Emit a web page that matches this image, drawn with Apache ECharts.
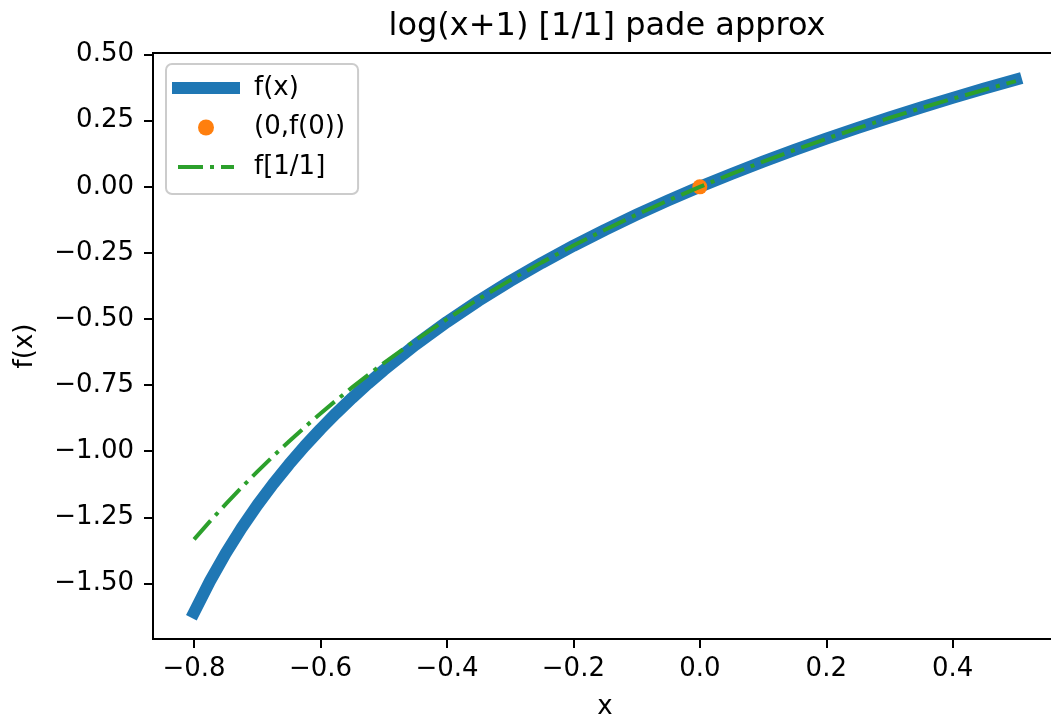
<!DOCTYPE html>
<html>
<head>
<meta charset="utf-8">
<script src="https://cdn.jsdelivr.net/npm/echarts@6/dist/echarts.min.js"></script>
<style>
html,body{margin:0;padding:0;background:#fff;}
#chart{width:1051px;height:717px;}
</style>
</head>
<body>
<div id="chart"></div>
<script>
// Data
const xValues = [-0.8, -0.775, -0.75, -0.725, -0.7, -0.675, -0.65, -0.625, -0.6, -0.575, -0.55, -0.525, -0.5, -0.45, -0.4, -0.35, -0.3, -0.25, -0.2, -0.15, -0.1, -0.05, 0.0, 0.05, 0.1, 0.15, 0.2, 0.25, 0.3, 0.35, 0.4, 0.45, 0.5];
const fValues = [-1.6094, -1.4917, -1.3863, -1.2910, -1.2040, -1.1239, -1.0498, -0.9808, -0.9163, -0.8557, -0.7985, -0.7444, -0.6931, -0.5978, -0.5108, -0.4308, -0.3567, -0.2877, -0.2231, -0.1625, -0.1054, -0.0513, 0.0, 0.0488, 0.0953, 0.1398, 0.1823, 0.2231, 0.2624, 0.3001, 0.3365, 0.3716, 0.4055];
const padeValues = [-1.3333, -1.2653, -1.2000, -1.1373, -1.0769, -1.0189, -0.9630, -0.9091, -0.8571, -0.8070, -0.7586, -0.7119, -0.6667, -0.5806, -0.5000, -0.4242, -0.3529, -0.2857, -0.2222, -0.1622, -0.1053, -0.0513, 0.0, 0.0488, 0.0952, 0.1395, 0.1818, 0.2222, 0.2609, 0.2979, 0.3333, 0.3673, 0.4000];
const pointX = [0.0];
const pointY = [0.0];
const xTicks = [-0.8, -0.6, -0.4, -0.2, 0.0, 0.2, 0.4];
const yTicks = [-1.5, -1.25, -1.0, -0.75, -0.5, -0.25, 0.0, 0.25, 0.5];
const seriesNames = ['f(x)', '(0,f(0))', 'f[1/1]'];
const titleText = 'log(x+1) [1/1] pade approx';
const xName = 'x';
const yName = 'f(x)';

const FONT = 'DejaVu Sans';
const fmt = (d) => (v) => {
  const s = Math.abs(v).toFixed(d);
  return (v < -1e-9 ? '\u2212' : '') + s;
};

const zip = (a, b) => a.map((v, i) => [v, b[i]]);

const chart = echarts.init(document.getElementById('chart'), null, {renderer: 'canvas'});
chart.setOption({
  animation: false,
  backgroundColor: '#ffffff',
  textStyle: {fontFamily: FONT},
  title: {
    text: titleText,
    left: 602,
    textAlign: 'center',
    top: 6,
    textStyle: {fontFamily: FONT, fontSize: 32, fontWeight: 'normal', color: '#000'}
  },
  grid: {
    left: 153, top: 53, width: 904, height: 586,
    show: true, borderColor: '#000', borderWidth: 2, backgroundColor: 'transparent',
    containLabel: false, outerBoundsMode: 'none'
  },
  legend: {
    orient: 'vertical',
    left: 166, top: 64,
    padding: [11, 13, 14, 6],
    itemWidth: 56, itemHeight: 16, itemGap: 13.5,
    backgroundColor: '#ffffff',
    borderColor: '#cccccc', borderWidth: 2, borderRadius: 6,
    textStyle: {fontFamily: FONT, fontSize: 26, lineHeight: 26, color: '#000', padding: [0, 0, 0, 15]},
    data: [
      {name: seriesNames[0], itemStyle: {opacity: 0, color: 'rgba(0,0,0,0)', borderWidth: 0}, lineStyle: {width: 12, cap: 'square'}},
      {name: seriesNames[1]},
      {name: seriesNames[2], itemStyle: {opacity: 0, color: 'rgba(0,0,0,0)', borderWidth: 0}, lineStyle: {width: 4, type: [25, 7, 4, 7], cap: 'butt'}}
    ]
  },
  xAxis: {
    type: 'value', min: -0.865, max: 0.565,
    name: xName, nameLocation: 'middle', nameGap: 55,
    nameTextStyle: {fontFamily: FONT, fontSize: 26, color: '#000'},
    axisLine: {show: true, onZero: false, lineStyle: {color: '#000', width: 2}},
    axisTick: {show: true, inside: false, length: 9, lineStyle: {color: '#000', width: 2}, customValues: xTicks},
    axisLabel: {show: true, margin: 17, fontFamily: FONT, fontSize: 26, color: '#000', customValues: xTicks, formatter: fmt(1)},
    splitLine: {show: false}
  },
  yAxis: {
    type: 'value', min: -1.710185, max: 0.50621,
    name: yName, nameLocation: 'middle', nameGap: 115, nameRotate: 90,
    nameTextStyle: {fontFamily: FONT, fontSize: 26, color: '#000'},
    axisLine: {show: true, onZero: false, lineStyle: {color: '#000', width: 2}},
    axisTick: {show: true, inside: false, length: 9, lineStyle: {color: '#000', width: 2}, customValues: yTicks},
    axisLabel: {show: true, margin: 19, fontFamily: FONT, fontSize: 26, color: '#000', customValues: yTicks, formatter: fmt(2)},
    splitLine: {show: false}
  },
  series: [
    {
      name: seriesNames[0], type: 'line', data: zip(xValues, fValues),
      showSymbol: false, symbol: 'none', smooth: false, z: 2,
      itemStyle: {color: '#1f77b4'},
      lineStyle: {color: '#1f77b4', width: 12, cap: 'square', join: 'round'}
    },
    {
      name: seriesNames[1], type: 'scatter', data: zip(pointX, pointY),
      symbol: 'circle', symbolSize: 15, z: 3,
      itemStyle: {color: '#ff7f0e', opacity: 1}
    },
    {
      name: seriesNames[2], type: 'line', data: zip(xValues, padeValues),
      showSymbol: false, symbol: 'none', smooth: false, z: 4,
      itemStyle: {color: '#2ca02c'},
      lineStyle: {color: '#2ca02c', width: 4, type: [25, 7, 4, 7], cap: 'butt', join: 'round'}
    }
  ]
});
</script>
</body>
</html>
